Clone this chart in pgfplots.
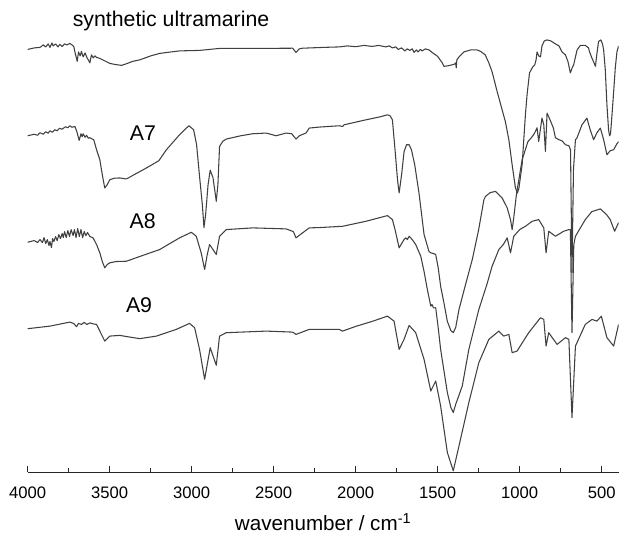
\documentclass[border=0pt]{standalone}
\usepackage{fontspec}
\setmainfont{Liberation Sans}
\usepackage{pgfplots}
\pgfplotsset{compat=1.18}
\definecolor{trace}{HTML}{404040}
\pgfplotsset{spec/.style={trace, line width=0.8pt, line join=round, mark=none}}

\begin{document}
\begin{tikzpicture}
\begin{axis}[
  scale only axis, width=444pt, height=355pt,
  xmin=397, xmax=4000, ymin=-473.3, ymax=0,
  x dir=reverse,
  axis x line=bottom, axis y line=none,
  x axis line style={-, line width=0.8pt, color=black!85},
  xtick={500,1000,...,4000},
  minor x tick num=1,
  tick align=inside,
  major tick length=5pt, minor tick length=3.5pt,
  tick style={line width=0.8pt, color=black!85},
  xticklabel style={font=\fontsize{12.5}{14}\selectfont, yshift=-7pt},
  /pgf/number format/assume math mode=true,
  /pgf/number format/set thousands separator={},
  xlabel={wavenumber / cm\textsuperscript{-1}},
  xlabel style={font=\fontsize{15.5}{18}\selectfont, yshift=-5pt},
]

% synthetic ultramarine
\addplot[spec] coordinates {
(4000,-49.5) (3960,-48) (3925,-47.5) (3905,-45) (3890,-47) (3875,-44) (3864,-47.5) (3852,-43) (3845,-46) (3830,-44) (3815,-47) (3804,-44.5) (3790,-46.5) (3775,-44) (3760,-45) (3743,-43.5) (3730,-45) (3718,-47)
(3712,-52) (3698,-61.5) (3690,-52) (3680,-56) (3672,-51.5) (3662,-57) (3650,-53) (3638,-58) (3630,-60) (3621,-63) (3611,-55) (3600,-58) (3590,-56) (3580,-57.5) (3560,-58.5) (3530,-61) (3499,-63.5) (3470,-64.5) (3428,-65.5) (3400,-64) (3360,-61.5) (3317,-60) (3250,-56) (3195,-53.5) (3100,-51.5) (3074,-51) (2952,-50.5) (2830,-48.5) (2600,-48.5) (2384,-48.3) (2364,-52.5) (2344,-49) (2324,-48.3) (2200,-47.5) (2100,-47) (2050,-46) (2000,-46.8) (1950,-45.5) (1900,-46.5) (1860,-45.5) (1816,-47) (1795,-46) (1776,-48) (1755,-47) (1740,-49.5) (1720,-48) (1700,-51) (1685,-49) (1670,-50.5) (1655,-49) (1644,-52.5) (1630,-50) (1620,-52) (1605,-49.5) (1595,-51) (1575,-49) (1553,-50) (1530,-53) (1500,-56.5) (1472,-63) (1462,-66.5) (1440,-66) (1400,-64.5) (1390,-63) (1387,-68) (1383,-60) (1370,-57) (1340,-52) (1299,-50) (1260,-50)
(1238,-51.5) (1210,-55) (1188,-63) (1168,-72) (1137,-92) (1107,-110) (1087,-122) (1066,-140) (1046,-165) (1026,-188) (1014,-193.5) (1005,-189) (985,-165) (965,-115) (955,-95) (940,-73) (920,-67) (908,-65) (900,-60) (894,-52) (884,-56) (873,-57) (864,-46) (850,-41) (833,-40) (810,-41) (782,-44) (760,-46) (742,-52) (721,-55) (705,-62) (691,-73) (680,-68) (671,-65) (650,-50) (630,-45.5) (600,-45.5) (580,-48) (575,-51.5) (560,-58) (549,-62) (538,-66.5) (530,-55) (519,-41.5) (505,-40) (495,-44) (488,-50) (478,-70) (468,-105) (458,-130) (452,-136) (446,-134) (437,-115) (427,-92) (417,-68) (407,-52) (397,-46)
};

% A7
\addplot[spec] coordinates {
(4000,-136) (3960,-134.5) (3940,-135.5) (3925,-133) (3905,-134.5) (3890,-132) (3875,-133.5) (3864,-131) (3850,-132.5) (3835,-130) (3820,-131) (3805,-128.5) (3790,-129.5) (3770,-127) (3755,-128) (3743,-126) (3730,-127.5) (3712,-126.7) (3700,-132) (3686,-140.7) (3675,-134) (3668,-137) (3662,-134) (3650,-137.5) (3641,-135.5) (3630,-138.5) (3621,-138) (3597,-140) (3580,-150) (3560,-160) (3545,-175) (3530,-188.3) (3515,-185) (3499,-180) (3470,-178.5) (3439,-178.3) (3398,-179.3) (3340,-174) (3276,-168.3) (3200,-161) (3154,-150) (3074,-135) (3040,-129.5) (3017,-126) (2988,-130) (2970,-145) (2952,-176.7) (2935,-205) (2925,-228) (2915,-215) (2900,-185) (2887,-170.5) (2870,-178) (2858,-192) (2850,-201.7) (2840,-185) (2830,-146.7) (2810,-141.5) (2789,-139.3) (2700,-136) (2628,-134) (2546,-133.3) (2485,-136) (2425,-133.3) (2390,-134) (2364,-139.3) (2344,-136) (2303,-133.3) (2283,-128.3) (2222,-127.3) (2100,-126) (2080,-126.7) (2070,-125) (1950,-120.5) (1850,-117) (1806,-115) (1790,-116) (1776,-120)
(1760,-150) (1745,-180) (1735,-193.3) (1720,-175) (1705,-152) (1690,-145) (1674,-145) (1660,-150) (1640,-165) (1614,-193.3) (1583,-235) (1553,-252) (1542,-253.3) (1525,-254) (1512,-255) (1497,-268) (1482,-286.7) (1460,-305) (1441,-322) (1420,-331) (1405,-333.3) (1390,-328) (1370,-310) (1330,-285) (1289,-260) (1250,-230) (1218,-200) (1208,-196.7) (1180,-193) (1147,-191.7) (1127,-195) (1107,-198.3) (1076,-208.3) (1056,-220) (1046,-230) (1036,-218) (1020,-195) (985,-160) (950,-142) (924,-137) (908,-133) (894,-128) (884,-141.7) (864,-118.3) (853,-125) (843,-151.7) (833,-113.3) (815,-120) (795,-128) (782,-138) (760,-140) (742,-141) (721,-145) (700,-146) (690,-150) (681,-273) (672,-170) (660,-140) (651,-138.3) (620,-125) (590,-118.3) (570,-130) (549,-140) (529,-133) (508,-128.3) (488,-140) (468,-155) (448,-151) (427,-150) (407,-144) (397,-142)
};

% A8
\addplot[spec] coordinates {
(4000,-242.7) (3960,-241) (3940,-243) (3925,-240) (3910,-243) (3900,-238) (3890,-244) (3880,-240) (3870,-246) (3864,-242) (3855,-248) (3848,-239) (3840,-242) (3830,-237) (3820,-241) (3810,-235) (3800,-239) (3790,-234) (3783,-238) (3775,-232) (3765,-238) (3755,-231) (3745,-237) (3735,-230) (3723,-236) (3715,-230) (3705,-238) (3695,-229) (3685,-237) (3675,-230) (3665,-238) (3655,-232) (3645,-236) (3635,-233) (3620,-237) (3601,-238.3) (3580,-245) (3560,-253.3) (3545,-262) (3530,-268.3) (3515,-265) (3499,-263.3) (3460,-262) (3398,-261.7) (3300,-256) (3195,-250) (3074,-238.3) (3002,-232.7) (2972,-236.7) (2942,-253.3) (2921,-270) (2905,-255) (2891,-245) (2870,-250) (2850,-255) (2830,-236.7) (2789,-230) (2628,-228.3) (2425,-229.3) (2380,-232) (2364,-238.3) (2324,-233.3) (2283,-228.3) (2222,-228) (2080,-226.7) (1938,-221.7) (1806,-216) (1776,-220)
(1760,-230) (1735,-248.3) (1720,-244) (1705,-240) (1695,-238.3) (1685,-240) (1674,-236.7) (1655,-240) (1634,-245) (1603,-256.7) (1583,-272) (1563,-290) (1542,-306.7) (1535,-305) (1525,-308.5) (1512,-308.3) (1497,-328) (1482,-350) (1441,-393.3) (1420,-408) (1405,-413.3) (1390,-405) (1350,-386.7) (1310,-350) (1249,-310) (1200,-285) (1168,-266.7) (1127,-250) (1100,-245) (1076,-238.3) (1056,-253.3) (1036,-236.7) (1000,-230) (965,-226.7) (924,-221.7) (884,-220) (853,-228.3) (839,-253.3) (823,-231.7) (782,-236.7) (732,-231.7) (700,-230) (691,-230) (681,-333.3) (670,-245) (660,-236.7) (600,-220) (560,-212) (508,-209.3) (470,-215) (448,-220) (421,-231.7) (397,-223)
};

% A9
\addplot[spec] coordinates {
(4000,-329.3) (3864,-326.7) (3743,-322.7) (3720,-324) (3702,-327.3) (3690,-324) (3672,-325) (3655,-323) (3640,-325) (3620,-323.5) (3600,-324.5) (3580,-325) (3560,-331.7) (3530,-341.7) (3499,-336.7) (3439,-336) (3317,-339.3) (3215,-336.7) (3094,-330) (3013,-324) (2982,-328.3) (2952,-350) (2921,-380) (2887,-348.3) (2850,-366) (2830,-336.7) (2789,-333.3) (2546,-331.7) (2384,-332.7) (2364,-335) (2283,-330) (2100,-330) (2080,-331.7) (2000,-327) (1900,-322) (1806,-316.7) (1766,-321.7)
(1735,-350) (1705,-340) (1674,-326) (1634,-333.3) (1583,-360) (1542,-391.7) (1512,-381.7) (1482,-406.7) (1441,-453.3) (1405,-471.7) (1370,-446.7) (1310,-403.3) (1249,-363.3) (1188,-340) (1127,-331.7) (1097,-336.7) (1066,-335) (1046,-353.3) (1016,-351.7) (945,-333.3) (873,-318.3) (853,-320) (839,-346.7) (823,-333.3) (772,-345) (721,-338.3) (700,-340) (681,-418.3) (660,-346.7) (600,-325) (559,-320) (529,-321.7) (502,-316.7) (468,-338.3) (427,-346.7) (397,-325)
};

\node[font=\fontsize{16}{19}\selectfont] at (axis cs:3126,-21) {synthetic ultramarine};
\node[font=\fontsize{16}{19}\selectfont] at (axis cs:3297,-133) {A7};
\node[font=\fontsize{16}{19}\selectfont] at (axis cs:3299,-222) {A8};
\node[font=\fontsize{16}{19}\selectfont] at (axis cs:3321,-306) {A9};
\end{axis}
\path (-20.8pt,-51pt) (444pt,355pt);
\end{tikzpicture}
\end{document}
